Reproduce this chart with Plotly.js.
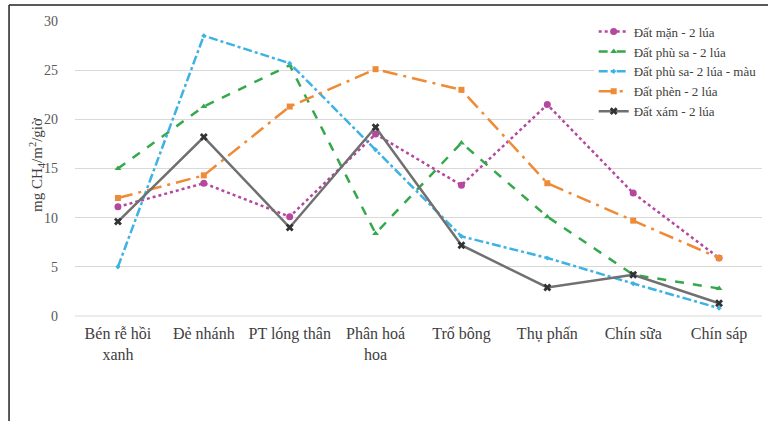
<!DOCTYPE html>
<html>
<head>
<meta charset="utf-8">
<script src="https://cdn.plot.ly/plotly-3.0.1.min.js"></script>
<style>html,body{margin:0;padding:0;background:#fff;}#chart{width:768px;height:421px;}</style>
</head>
<body>
<div id="chart"></div>
<script>
const categories = ["Bén rễ hồi<br>xanh", "Đẻ nhánh", "PT lóng thân", "Phân hoá<br>hoa", "Trổ bông", "Thụ phấn", "Chín sữa", "Chín sáp"];
const seriesNames = ["Đất mặn - 2 lúa", "Đất phù sa - 2 lúa", "Đất phù sa- 2 lúa - màu", "Đất phèn - 2 lúa", "Đất xám - 2 lúa"];
const datMan = [11.1, 13.5, 10.1, 18.5, 13.3, 21.5, 12.5, 5.9];
const datPhuSa = [15.0, 21.3, 25.5, 8.4, 17.6, 10.1, 4.2, 2.8];
const datPhuSaMau = [5.0, 28.5, 25.7, 16.9, 8.1, 5.9, 3.3, 0.8];
const datPhen = [12.0, 14.3, 21.3, 25.1, 23.0, 13.5, 9.7, 5.9];
const datXam = [9.6, 18.2, 9.0, 19.2, 7.2, 2.9, 4.2, 1.3];
const yTicks = [0, 5, 10, 15, 20, 25, 30];
const yTitle = 'mg CH<sub>4</sub>/m<sup>2</sup>/giờ';

const FAM = 'Liberation Serif, Times New Roman, serif';
const styles = [
  {color: '#b5479f', dash: 'dot', symbol: 'circle', size: 7},
  {color: '#35a84c', dash: 'dash', symbol: 'triangle-up', size: 6},
  {color: '#3db2e3', dash: 'dashdot', symbol: 'diamond', size: 4},
  {color: '#ef8a35', dash: 'longdashdot', symbol: 'square', size: 6},
  {color: '#707070', dash: 'solid', symbol: 'x', size: 7}
];
const values = [datMan, datPhuSa, datPhuSaMau, datPhen, datXam];

const traces = values.map((v, i) => ({
  type: 'scatter', mode: 'lines+markers',
  x: categories, y: v, name: seriesNames[i],
  line: {color: styles[i].color, dash: styles[i].dash, width: 2.5},
  marker: {symbol: styles[i].symbol, size: styles[i].size,
           color: i === 4 ? '#333' : styles[i].color}
}));

const layout = {
  width: 768, height: 421,
  margin: {l: 75, r: 6, t: 21, b: 105},
  paper_bgcolor: '#fff', plot_bgcolor: '#fff',
  font: {family: FAM, color: '#404040'},
  showlegend: true,
  legend: {x: 0.755, y: 1.015, xanchor: 'left', yanchor: 'top',
           bgcolor: 'rgba(255,255,255,1)', font: {family: FAM, size: 13, color: '#404040'},
           tracegroupgap: 0, itemwidth: 30},
  xaxis: {type: 'category', range: [-0.5, 7.5], showgrid: false, zeroline: false, showline: false,
          tickfont: {family: FAM, size: 16, color: '#404040'}, ticks: '', automargin: false,
          ticklabelstandoff: 6},
  yaxis: {range: [0, 30], tickvals: yTicks, showgrid: true, gridcolor: '#d9d9d9',
          gridwidth: 1, zeroline: false, showline: false, ticks: '',
          tickfont: {family: FAM, size: 14, color: '#595959'}, automargin: false,
          ticklabelstandoff: 16},
  annotations: [
    {text: yTitle, xref: 'paper', yref: 'paper', x: -0.0553, y: 0.512,
     xanchor: 'center', yanchor: 'middle', textangle: -90, showarrow: false,
     font: {family: FAM, size: 15, color: '#404040'}}
  ],
  shapes: [
    {type: 'line', xref: 'paper', yref: 'paper', x0: 0, x1: 1, y0: 0, y1: 0,
     line: {color: '#d9d9d9', width: 1}},
    {type: 'line', xref: 'paper', yref: 'paper', x0: -0.096, x1: 1.2, y0: 1.054, y1: 1.054,
     line: {color: '#222', width: 1.5}},
    {type: 'line', xref: 'paper', yref: 'paper', x0: -0.096, x1: -0.096, y0: 1.054, y1: -0.5,
     line: {color: '#222', width: 1.5}}
  ]
};

Plotly.newPlot('chart', traces, layout, {displayModeBar: false, staticPlot: true});
</script>
</body>
</html>
